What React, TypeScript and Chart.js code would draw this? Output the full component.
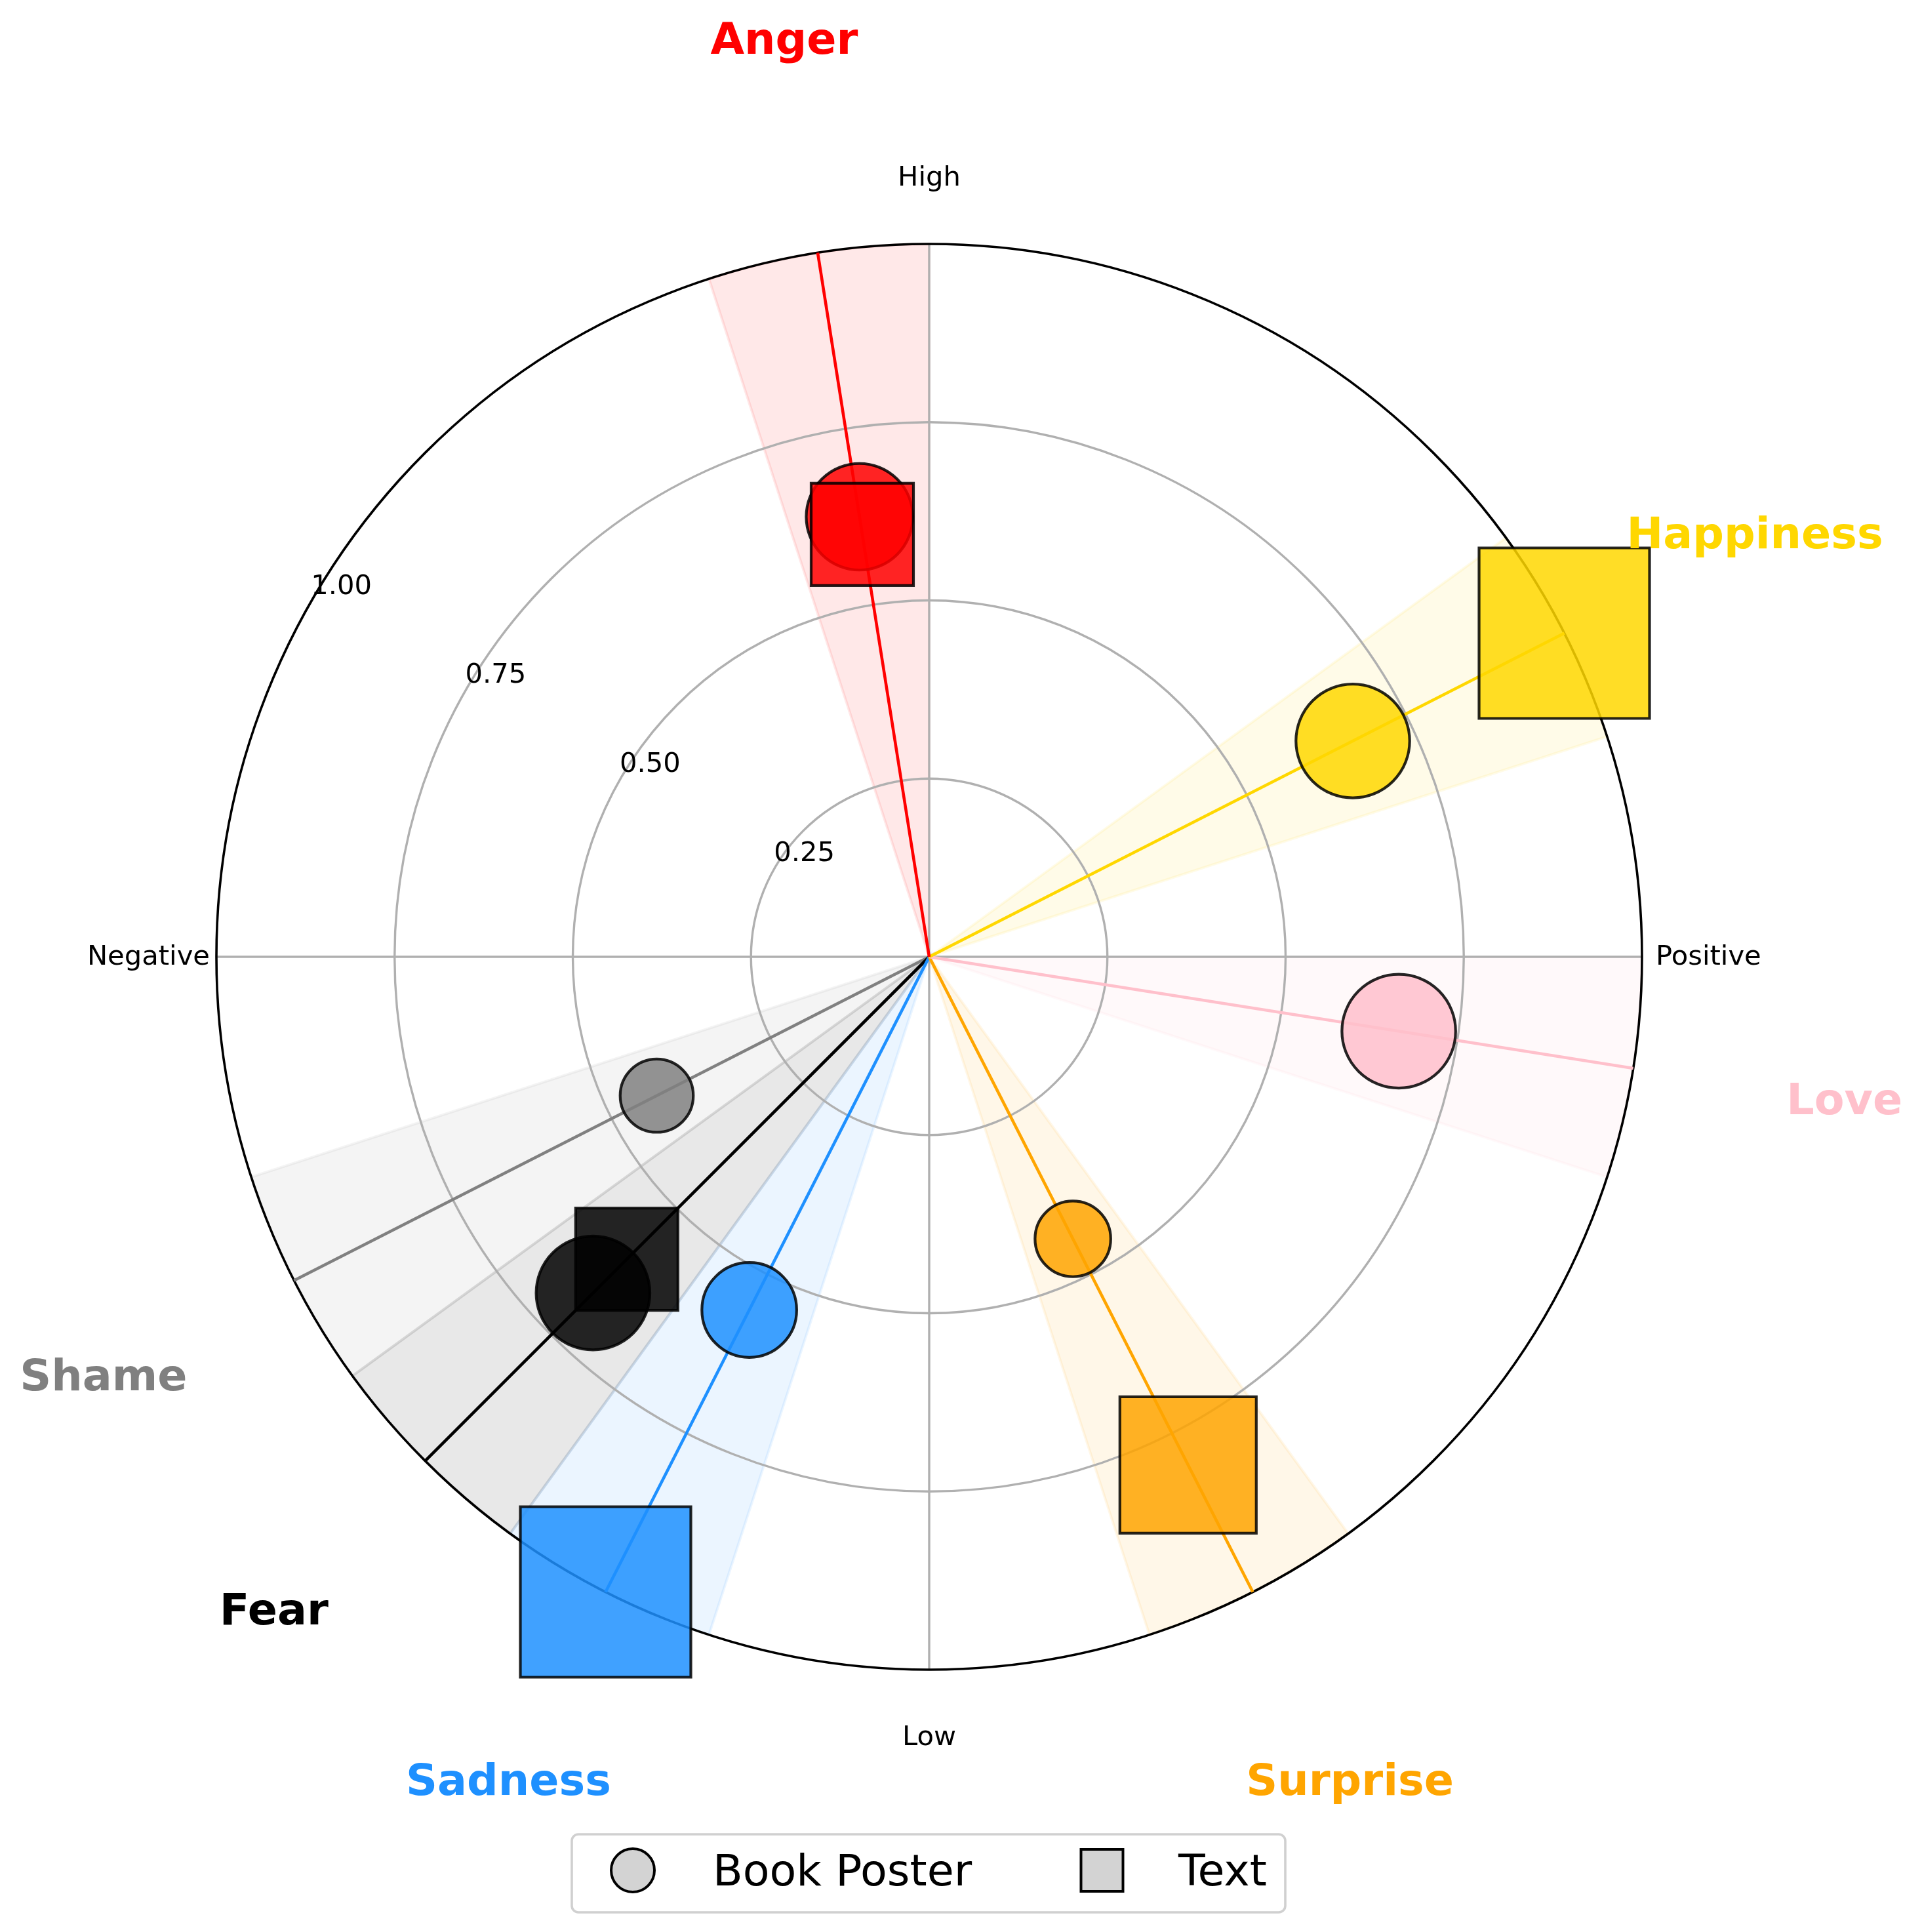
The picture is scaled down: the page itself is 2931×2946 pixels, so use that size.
import React, { useEffect, useRef } from 'react';
import { Chart, registerables } from 'chart.js';

Chart.register(...registerables);

// ---------------- data ----------------
const emotions = ['Anger', 'Happiness', 'Love', 'Surprise', 'Sadness', 'Fear', 'Shame'];
const emotionAngles = [99, 27, 351, 297, 243, 225, 207]; // degrees, counter-clockwise from "Positive"
const bookPosterScores = [0.625, 0.667, 0.667, 0.444, 0.556, 0.667, 0.429];
const textScores = [0.6, 1.0, 0, 0.8, 1.0, 0.6, 0];
const emotionColors = ['#FF0000', '#FFD700', '#FFC0CB', '#FFA500', '#1E90FF', '#000000', '#808080'];
const axisLabels = ['Positive', 'High', 'Negative', 'Low'];
const axisAngles = [0, 90, 180, 270];
const radialTicks = [0.25, 0.5, 0.75, 1.0];
const legendLabels = ['Book Poster', 'Text'];

// ---------------- layout constants ----------------
const W = 2931;
const H = 2946;
const CX = 1417;
const CY = 1459;
const RAD = 1087;
const WEDGE_HALF = 9;
const WEDGE_ALPHA = 0.09;
const MARKER_SCALE = 130;
const LABEL_R = 1.3;
const RLABEL_ANGLE = 150;
const FONT = '"DejaVu Sans", "Liberation Sans", sans-serif';

const toRad = (d: number) => (d * Math.PI) / 180;
const polar = (deg: number, r: number) => ({ x: r * Math.cos(toRad(deg)), y: r * Math.sin(toRad(deg)) });

function withAlpha(hex: string, a: number) {
  const n = parseInt(hex.slice(1), 16);
  return `rgba(${(n >> 16) & 255},${(n >> 8) & 255},${n & 255},${a})`;
}

const decorPlugin = {
  id: 'polarDecor',
  beforeDraw(chart: any) {
    const ctx = chart.ctx;
    ctx.save();
    ctx.fillStyle = '#ffffff';
    ctx.fillRect(0, 0, chart.width, chart.height);
    ctx.restore();
  },
  beforeDatasetsDraw(chart: any) {
    const { ctx } = chart;
    const xs = chart.scales.x;
    const ys = chart.scales.y;
    const cx = xs.getPixelForValue(0);
    const cy = ys.getPixelForValue(0);
    const rad = xs.getPixelForValue(1) - cx;
    ctx.save();
    // wedges
    emotions.forEach((_, i) => {
      const a0 = toRad(emotionAngles[i] - WEDGE_HALF);
      const a1 = toRad(emotionAngles[i] + WEDGE_HALF);
      ctx.beginPath();
      ctx.moveTo(cx, cy);
      ctx.arc(cx, cy, rad, -a1, -a0, false);
      ctx.closePath();
      ctx.fillStyle = withAlpha(emotionColors[i], WEDGE_ALPHA);
      ctx.fill();
      ctx.strokeStyle = withAlpha(emotionColors[i], WEDGE_ALPHA);
      ctx.lineWidth = 4;
      ctx.stroke();
    });
    // grid circles
    ctx.strokeStyle = '#b0b0b0';
    ctx.lineWidth = 3.4;
    radialTicks.forEach((t) => {
      if (t >= 1) return;
      ctx.beginPath();
      ctx.arc(cx, cy, xs.getPixelForValue(t) - cx, 0, Math.PI * 2);
      ctx.stroke();
    });
    // radial grid lines
    axisAngles.forEach((a) => {
      const p = polar(a, 1);
      ctx.beginPath();
      ctx.moveTo(cx, cy);
      ctx.lineTo(xs.getPixelForValue(p.x), ys.getPixelForValue(p.y));
      ctx.stroke();
    });
    // spine
    ctx.strokeStyle = '#000000';
    ctx.lineWidth = 3.6;
    ctx.beginPath();
    ctx.arc(cx, cy, rad, 0, Math.PI * 2);
    ctx.stroke();

    // radial tick labels
    ctx.fillStyle = '#000000';
    ctx.font = `41.7px ${FONT}`;
    ctx.textAlign = 'center';
    ctx.textBaseline = 'alphabetic';
    radialTicks.forEach((t) => {
      const p = polar(RLABEL_ANGLE, t);
      ctx.fillText(t.toFixed(2), xs.getPixelForValue(p.x) + 45, ys.getPixelForValue(p.y) - 10);
    });
    // angular labels
    axisLabels.forEach((lab, i) => {
      const a = axisAngles[i];
      const p = polar(a, 1);
      const px = xs.getPixelForValue(p.x);
      const py = ys.getPixelForValue(p.y);
      if (a === 0) {
        ctx.textAlign = 'left';
        ctx.fillText(lab, px + 21, py + 12);
      } else if (a === 180) {
        ctx.textAlign = 'right';
        ctx.fillText(lab, px - 10, py + 12);
      } else if (a === 90) {
        ctx.textAlign = 'center';
        ctx.fillText(lab, px, py - 89);
      } else {
        ctx.textAlign = 'center';
        ctx.fillText(lab, px, py + 115);
      }
    });
    ctx.restore();
  },
  afterDatasetsDraw(chart: any) {
    const { ctx } = chart;
    const xs = chart.scales.x;
    const ys = chart.scales.y;
    ctx.save();
    // emotion labels
    ctx.font = `bold 66.7px ${FONT}`;
    ctx.textAlign = 'center';
    ctx.textBaseline = 'alphabetic';
    emotions.forEach((e, i) => {
      const p = polar(emotionAngles[i], LABEL_R);
      ctx.fillStyle = emotionColors[i];
      ctx.fillText(e, xs.getPixelForValue(p.x), ys.getPixelForValue(p.y) + 19);
    });
    // legend
    const lx = 872, ly = 2797, lw = 1088, lh = 119;
    ctx.beginPath();
    (ctx as any).roundRect(lx, ly, lw, lh, 10);
    ctx.fillStyle = 'rgba(255,255,255,0.8)';
    ctx.fill();
    ctx.strokeStyle = '#d0d0d0';
    ctx.lineWidth = 3.6;
    ctx.stroke();

    ctx.fillStyle = '#d3d3d3';
    ctx.strokeStyle = '#000000';
    ctx.lineWidth = 4;
    ctx.beginPath();
    ctx.arc(965, 2852, 33, 0, Math.PI * 2);
    ctx.fill();
    ctx.stroke();
    ctx.beginPath();
    ctx.rect(1680.5 - 32, 2852 - 32, 64, 64);
    ctx.fill();
    ctx.stroke();

    ctx.fillStyle = '#000000';
    ctx.font = `66.7px ${FONT}`;
    ctx.textAlign = 'left';
    ctx.fillText(legendLabels[0], 1087, 2875);
    ctx.fillText(legendLabels[1], 1797, 2875);
    ctx.restore();
  },
};

export default function App() {
  const ref = useRef<HTMLCanvasElement>(null);
  useEffect(() => {
    const canvas = ref.current;
    if (!canvas) return;

    const lineDatasets = emotions.map((e, i) => ({
      type: 'line' as const,
      label: e,
      data: [polar(emotionAngles[i], 0), polar(emotionAngles[i], 1)],
      borderColor: emotionColors[i],
      backgroundColor: emotionColors[i],
      borderWidth: 4.6,
      pointRadius: 0,
      pointHoverRadius: 0,
      showLine: true,
      fill: false,
      tension: 0,
      clip: false as any,
      order: 2,
    }));

    const posterDataset = {
      type: 'scatter' as const,
      label: legendLabels[0],
      data: emotions.map((_, i) => polar(emotionAngles[i], bookPosterScores[i])),
      pointStyle: 'circle',
      pointRadius: bookPosterScores.map((v) => v * MARKER_SCALE),
      pointHoverRadius: bookPosterScores.map((v) => v * MARKER_SCALE),
      backgroundColor: emotionColors.map((c) => withAlpha(c, 0.85)),
      borderColor: 'rgba(0,0,0,0.85)',
      borderWidth: 4.2,
      clip: false as any,
      order: 1,
    };

    const textDataset = {
      type: 'scatter' as const,
      label: legendLabels[1],
      data: emotions.map((_, i) => polar(emotionAngles[i], textScores[i])),
      pointStyle: 'rect',
      pointRadius: textScores.map((v) => v * MARKER_SCALE * Math.SQRT2),
      pointHoverRadius: textScores.map((v) => v * MARKER_SCALE * Math.SQRT2),
      backgroundColor: emotionColors.map((c) => withAlpha(c, 0.85)),
      borderColor: 'rgba(0,0,0,0.85)',
      borderWidth: 4.2,
      clip: false as any,
      order: 0,
    };

    const chart = new Chart(canvas, {
      type: 'scatter',
      data: { datasets: [textDataset, posterDataset, ...lineDatasets] as any },
      options: {
        responsive: false,
        maintainAspectRatio: false,
        devicePixelRatio: 1,
        animation: false,
        events: [],
        layout: {
          padding: { left: CX - RAD, right: W - (CX + RAD), top: CY - RAD, bottom: H - (CY + RAD) },
        },
        scales: {
          x: { type: 'linear', min: -1, max: 1, display: false },
          y: { type: 'linear', min: -1, max: 1, display: false },
        },
        plugins: {
          legend: { display: false },
          tooltip: { enabled: false },
          title: { display: false },
        },
      },
      plugins: [decorPlugin],
    });
    return () => chart.destroy();
  }, []);

  return (
    <div style={{ position: 'absolute', left: 0, top: 0, width: W, height: H, background: '#fff' }}>
      <canvas ref={ref} width={W} height={H} style={{ width: W, height: H, display: 'block' }} />
    </div>
  );
}
